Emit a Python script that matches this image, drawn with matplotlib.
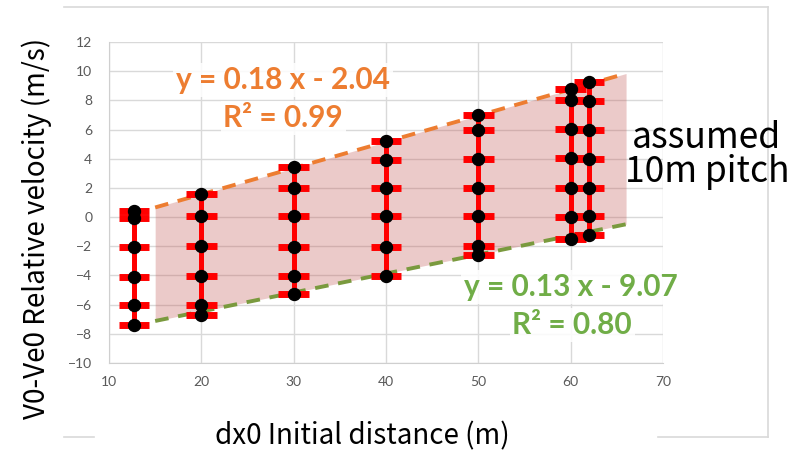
import numpy as np
import matplotlib
matplotlib.use("Agg")
import matplotlib.pyplot as plt
from matplotlib.lines import Line2D

# ── data ──────────────────────────────────────────────────────────────────────
col_x = [12.7, 20, 30, 40, 50, 60, 62]
col_y = [
    [0.4, -0.05, -2.05, -4.1, -6.0, -7.4],
    [1.6, 0.05, -1.95, -4.05, -6.0, -6.7],
    [3.4, 2.0, 0.05, -2.05, -4.05, -5.3],
    [5.2, 3.9, 2.0, 0.05, -2.05, -4.05],
    [7.0, 6.0, 4.0, 2.0, 0.05, -1.95, -2.6],
    [8.8, 8.0, 6.05, 4.05, 2.0, 0.0, -1.5],
    [9.25, 7.95, 6.0, 4.0, 2.0, 0.05, -1.25],
]
x_err = 1.65

trend_range = [15, 66]
upper_fit = (0.18, -2.04)
lower_fit = (0.13, -9.07)

x_ticks = [10, 20, 30, 40, 50, 60, 70]
y_ticks = list(range(-10, 13, 2))

ORANGE = "#ED7D31"
GREEN_TXT = "#70AD47"
GREEN_LINE = "#7A9A3E"
GRID = "#D9D9D9"
TICK = "#595959"

W, H = 797, 454
fig = plt.figure(figsize=(W / 100, H / 100), dpi=100)
ax = fig.add_axes([109 / W, 1 - 363 / H, (663 - 109) / W, (363 - 42) / H])

# chart border (top, right, bottom pieces)
for xs, ys in [([64, 768], [7, 7]), ([768, 768], [7, 437]),
               ([64, 94], [437, 437]), ([658, 768], [437, 437])]:
    fig.add_artist(Line2D([x / W for x in xs], [1 - y / H for y in ys],
                          color=GRID, lw=1.2, zorder=0))

ax.set_xlim(10, 70)
ax.set_ylim(-10, 12)
ax.set_xticks(x_ticks)
ax.set_yticks(y_ticks)
ax.grid(True, color=GRID, lw=1, zorder=0)
ax.set_axisbelow(True)
ax.tick_params(length=0, colors=TICK, labelsize=10)
ax.tick_params(axis="y", pad=12)
ax.tick_params(axis="x", pad=9)
for lab in ax.get_xticklabels() + ax.get_yticklabels():
    lab.set_family("Lato")
for s in ["top", "right"]:
    ax.spines[s].set_visible(False)
for s in ["left", "bottom"]:
    ax.spines[s].set_color("#CFCFCF")

# band between the two trend lines
tx = np.array(trend_range, dtype=float)
up = upper_fit[0] * tx + upper_fit[1]
lo = lower_fit[0] * tx + lower_fit[1]
ax.fill_between(tx, lo, up, color="#C0504D", alpha=0.3, lw=0, zorder=1)
ax.plot(tx, up, color=ORANGE, lw=2.8, dashes=(3.5, 2.5), zorder=2)
ax.plot(tx, lo, color=GREEN_LINE, lw=2.8, dashes=(3.5, 2.5), zorder=2)

# columns of points with red bars
for x, ys in zip(col_x, col_y):
    ax.vlines(x, min(ys), max(ys), color="red", lw=3.6, zorder=3)
    ax.errorbar([x] * len(ys), ys, xerr=x_err, fmt="o", color="black",
                ms=8.6, ecolor="red", elinewidth=5, capsize=0, zorder=4)

# trend-line equations
eq_box = dict(facecolor="white", edgecolor="none", alpha=0.85, pad=2)
eq_kw = dict(fontsize=21.5, fontweight="bold", family="Lato",
             ha="center", va="center", bbox=eq_box)
fig.text(283 / W, 1 - 80 / H, "y = 0.18 x - 2.04", color=ORANGE, **eq_kw)
fig.text(283 / W, 1 - 118 / H, "R² = 0.99", color=ORANGE, **eq_kw)
fig.text(571 / W, 1 - 287 / H, "y = 0.13 x - 9.07", color=GREEN_TXT, **eq_kw)
fig.text(572 / W, 1 - 325 / H, "R² = 0.80", color=GREEN_TXT, **eq_kw)

fig.text(707 / W, 1 - 155 / H, "assumed\n10m pitch", color="black", fontsize=25.5,
         family="Noto Sans CJK JP", ha="center", va="center", linespacing=0.95)

fig.text(362 / W, 1 - 436 / H, "dx0 Initial distance (m)", fontsize=20,
         family="Noto Sans CJK JP", ha="center", va="center")
fig.text(37 / W, 1 - 228 / H, "V0-Ve0 Relative velocity (m/s)", fontsize=20,
         family="Noto Sans CJK JP", ha="center", va="center", rotation=90)

fig.savefig("out.png", dpi=100)
